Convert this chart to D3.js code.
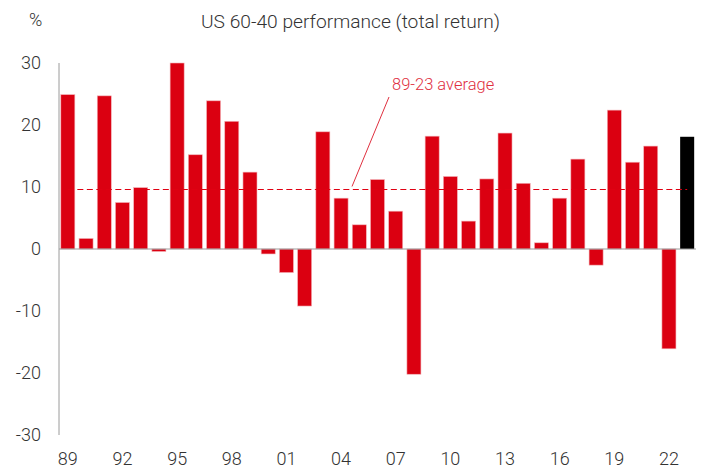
<!DOCTYPE html>
<html>
<head>
<meta charset="utf-8">
<script src="https://cdn.jsdelivr.net/npm/d3@7"></script>
<style>
  body { margin: 0; background: #fff; }
  text { font-family: Roboto, "Noto Sans", sans-serif; font-weight: 300; }
</style>
</head>
<body>
<div id="chart"></div>
<script>
// data
const years = d3.range(1989, 2024);
const returns = [24.9, 1.7, 24.7, 7.5, 9.9, -0.4, 30.0, 15.2, 23.9, 20.6,
                 12.4, -0.8, -3.8, -9.2, 18.9, 8.2, 3.9, 11.2, 6.1, -20.2,
                 18.2, 11.7, 4.5, 11.3, 18.7, 10.6, 1.0, 8.2, 14.5, -2.6,
                 22.4, 14.0, 16.6, -16.1, 18.1];
const average = 9.6;
const yTicks = [-30, -20, -10, 0, 10, 20, 30];
const xTickYears = [1989, 1992, 1995, 1998, 2001, 2004, 2007, 2010, 2013, 2016, 2019, 2022];

const width = 705, height = 470;
const margin = { top: 63, right: 9, bottom: 35, left: 59 };

const svg = d3.select('#chart').append('svg')
    .attr('width', width)
    .attr('height', height);

const x = d3.scaleBand()
    .domain(years)
    .range([margin.left, width - margin.right])
    .paddingInner(0.23)
    .paddingOuter(0.1);

const y = d3.scaleLinear()
    .domain([-30, 30])
    .range([height - margin.bottom, margin.top]);

// title and unit
svg.append('text')
    .attr('x', 201).attr('y', 28)
    .attr('font-size', 19.2).attr('fill', '#333')
    .text('US 60-40 performance (total return)');
svg.append('text')
    .attr('x', 29).attr('y', 26)
    .attr('font-size', 18).attr('fill', '#333')
    .text('%');

// y tick labels
svg.append('g')
    .selectAll('text')
    .data(yTicks)
    .enter().append('text')
    .attr('x', 41)
    .attr('y', d => y(d))
    .attr('dy', '0.36em')
    .attr('text-anchor', 'end')
    .attr('font-size', 18)
    .attr('fill', '#333')
    .text(d => d);

// bars
const data = years.map((yr, i) => ({ year: yr, value: returns[i] }));
svg.append('g')
    .selectAll('rect')
    .data(data)
    .enter().append('rect')
    .attr('x', d => x(d.year))
    .attr('width', x.bandwidth())
    .attr('y', d => y(Math.max(0, d.value)))
    .attr('height', d => Math.abs(y(d.value) - y(0)))
    .attr('fill', d => d.year === 2023 ? '#000' : '#db0011')
    .attr('stroke', d => d.year === 2023 ? 'none' : '#f3b3b8')
    .attr('stroke-width', 0.6);

// axes lines
svg.append('line')
    .attr('x1', margin.left).attr('x2', margin.left)
    .attr('y1', y(30)).attr('y2', y(-30))
    .attr('stroke', '#9a9a9a').attr('stroke-width', 1);
svg.append('line')
    .attr('x1', margin.left).attr('x2', width - margin.right)
    .attr('y1', y(0)).attr('y2', y(0))
    .attr('stroke', '#9a9a9a').attr('stroke-width', 1);

// average line
svg.append('line')
    .attr('x1', x(1989) + x.bandwidth() / 2).attr('x2', x(2023) + x.bandwidth() / 2)
    .attr('y1', Math.round(y(average)) + 0.5).attr('y2', Math.round(y(average)) + 0.5)
    .attr('stroke', '#e00012').attr('stroke-width', 1.2)
    .attr('stroke-dasharray', '6,3.5');

// annotation
svg.append('line')
    .attr('x1', 389).attr('y1', 97)
    .attr('x2', 352).attr('y2', y(average) - 3)
    .attr('stroke', '#e0303f').attr('stroke-width', 1);
svg.append('text')
    .attr('x', 392).attr('y', 90)
    .attr('font-size', 16.5).attr('fill', '#e0303f')
    .text('89-23 average');

// x tick labels
svg.append('g')
    .selectAll('text')
    .data(xTickYears)
    .enter().append('text')
    .attr('x', d => x(d) + x.bandwidth() / 2)
    .attr('y', 465)
    .attr('text-anchor', 'middle')
    .attr('font-size', 18)
    .attr('fill', '#333')
    .text(d => String(d).slice(2));
</script>
</body>
</html>
